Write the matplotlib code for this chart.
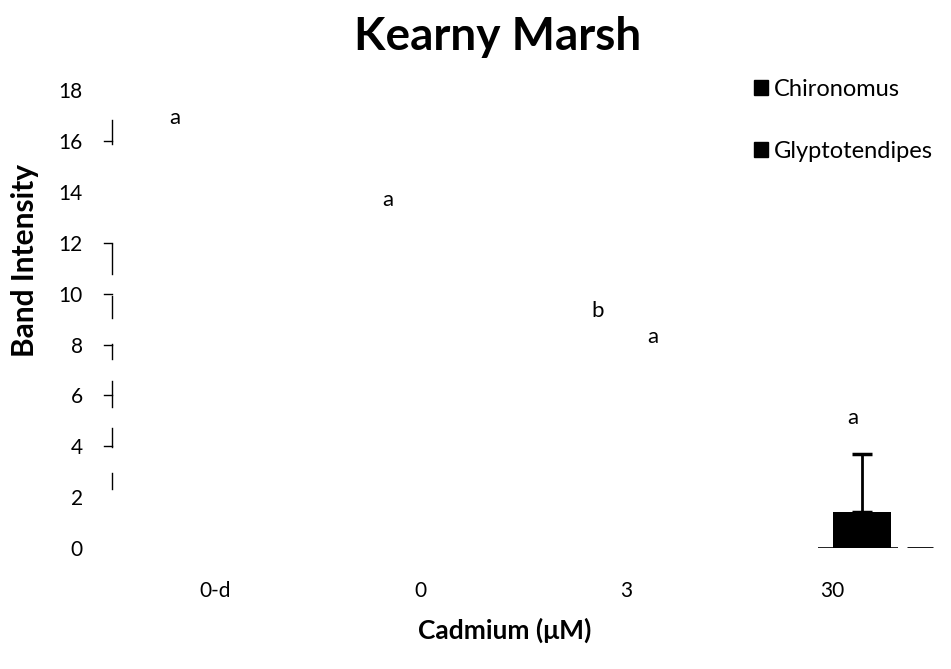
import matplotlib.pyplot as plt

plt.rcParams['font.family'] = ['Lato', 'DejaVu Sans']

# Data
categories = ['0-d', '0', '3', '30']
chironomus = [0, 0, 0, 1.4]
chironomus_err = [0, 0, 0, 2.3]
glyptotendipes = [0, 0, 0, 0]
visible = [False, False, False, True]

# Letters (significance) with x offset from category and height
letters = ['a', 'a', 'b', 'a', 'a']
letter_x = [-0.195, 0.84, 1.86, 2.13, 3.1]
letter_y = [16.9, 13.7, 9.3, 8.3, 5.1]

# remnants of the y axis line (start, end) and short ticks
axis_segments = [(15.9, 16.85), (10.77, 11.94), (9.04, 9.9), (7.43, 8.02), (5.54, 6.56), (3.97, 4.72), (2.32, 2.95)]
axis_ticks = [16, 12, 10, 8, 6, 4]

fig = plt.figure(figsize=(9.51, 6.69), dpi=100)
ax = fig.add_axes([0.1178, 0.181, 0.8707, 0.684])

x = list(range(len(categories)))
colors = ['black' if v else 'white' for v in visible]
ax.bar([i + 0.146 for i in x], chironomus, width=0.28, color=colors, label='Chironomus', zorder=2)
for i in x:
    if visible[i]:
        ax.errorbar(i + 0.146, chironomus[i], yerr=[[0], [chironomus_err[i]]], fmt='none',
                    ecolor='black', elinewidth=2, capsize=7, capthick=2.5, zorder=3)

# baseline pieces
ax.hlines(0, 2.93, 3.32, color='black', lw=1.2)
ax.hlines(glyptotendipes[3], 3.365, 3.49, color='black', lw=2)

for xi, yi, t in zip(letter_x, letter_y, letters):
    ax.text(xi, yi, t, ha='center', va='center', fontsize=16)

for y0, y1 in axis_segments:
    ax.plot([-0.5, -0.5], [y0, y1], color='black', lw=1, clip_on=False)
for t in axis_ticks:
    ax.plot([-0.54, -0.5], [t, t], color='black', lw=1, clip_on=False)

ax.set_xlim(-0.5, 3.525)
ax.set_ylim(0, 18)
ax.set_yticks(range(0, 19, 2))
ax.set_xticks(x)
ax.set_xticklabels(categories)
ax.tick_params(length=0, labelsize=15, pad=24)
ax.tick_params(axis='y', pad=21)
for s in ax.spines.values():
    s.set_visible(False)

fig.text(0.026, 0.61, 'Band Intensity', rotation=90, ha='center', va='center',
         fontsize=21.5, fontweight='bold')
fig.text(0.531, 0.058, 'Cadmium (\u03bcM)', ha='center', va='center',
         fontsize=19, fontweight='bold')
fig.text(0.523, 0.945, 'Kearny Marsh', ha='center', va='center', fontsize=33, fontweight='bold')

h1 = plt.Rectangle((0, 0), 1, 1, color='black')
h2 = plt.Rectangle((0, 0), 1, 1, color='black')
fig.legend([h1, h2], ['Chironomus', 'Glyptotendipes'], loc='upper left',
           bbox_to_anchor=(0.770, 0.914), frameon=False, fontsize=17,
           handlelength=0.6, handleheight=0.6, handletextpad=0.25, labelspacing=1.75)

fig.savefig('out.png', dpi=100)
